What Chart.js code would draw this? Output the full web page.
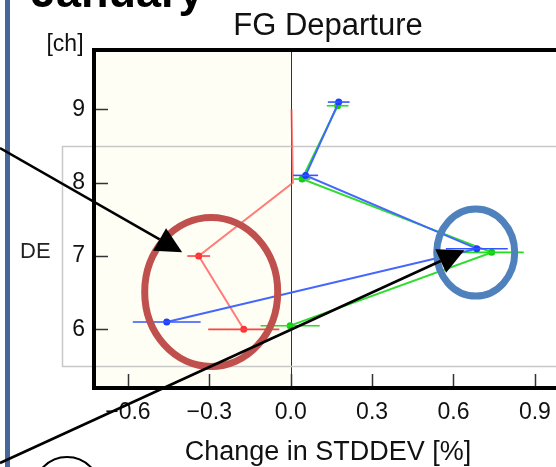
<!DOCTYPE html>
<html lang="en">
<head>
<meta charset="UTF-8">
<meta name="viewport" content="width=device-width, initial-scale=1.0">
<title>FG Departure</title>
<style>
    html, body { margin: 0; padding: 0; background: #fff; overflow: hidden; }
    #page { position: relative; width: 556px; height: 467px; overflow: hidden; font-family: 'Liberation Sans', Arial, sans-serif; }
    #bar { position: absolute; left: 5px; top: 0; width: 5px; height: 467px; background: #46679b; }
    #month { position: absolute; left: 31px; top: -31px; font-size: 45px; line-height: 45px; font-weight: bold; color: #000; white-space: nowrap; }
    #region { position: absolute; left: 20px; top: 240px; font-size: 22px; line-height: 22px; color: #222; }
    #fg { position: absolute; left: 0; top: 0; }
</style>
</head>
<body>
<div id="page">
    <div id="bar"></div>
    <canvas id="fg" width="580" height="467"></canvas>
    <div id="month">January</div>
    <div id="region">DE</div>
</div>
<script src="https://cdn.jsdelivr.net/npm/chart.js"></script>
<script>
// channels and change in stddev per experiment
const channels = [6, 7, 8, 9];
const redVals = [-0.173, -0.339, 0.008, 0.003];
const redErr = [0.131, 0.042, 0, 0];
const greenVals = [-0.002, 0.741, 0.042, 0.173];
const greenErr = [0.109, 0.118, 0.03, 0.04];
const blueVals = [-0.457, 0.686, 0.055, 0.177];
const blueErr = [0.125, 0.114, 0.046, 0.04];
const xTicks = [-0.6, -0.3, 0, 0.3, 0.6, 0.9];
const yTicks = [6, 7, 8, 9];

const font = "'Liberation Sans', Arial, sans-serif";
Chart.defaults.font.family = font;
Chart.defaults.color = '#111';

function points(vals, shift) {
    return channels.map((c, i) => ({ x: vals[i], y: c + shift }));
}

// horizontal error bars, drawn right after each dataset
const errorBars = {
    id: 'errorBars',
    afterDatasetDraw(chart, args) {
        const ds = chart.data.datasets[args.index];
        const { ctx, scales: { x } } = chart;
        ctx.save();
        ctx.strokeStyle = ds.barColor;
        ctx.lineWidth = 1.6;
        args.meta.data.forEach((pt, i) => {
            const e = ds.errs[i];
            if (!e) return;
            const v = ds.data[i].x;
            ctx.beginPath();
            ctx.moveTo(x.getPixelForValue(v - e), pt.y);
            ctx.lineTo(x.getPixelForValue(v + e), pt.y);
            ctx.stroke();
        });
        ctx.restore();
    }
};

// shaded negative half, zero line, box, inward ticks and frame
const frame = {
    id: 'frame',
    beforeDatasetsDraw(chart) {
        const { ctx, chartArea: a, scales: { x, y } } = chart;
        const x0 = x.getPixelForValue(0);
        ctx.save();
        ctx.fillStyle = '#fffef4';
        ctx.fillRect(a.left, a.top, x0 - a.left, a.bottom - a.top);

        ctx.strokeStyle = '#333';
        ctx.lineWidth = 1;
        ctx.beginPath();
        ctx.moveTo(Math.round(x0) + 0.5, a.top);
        ctx.lineTo(Math.round(x0) + 0.5, a.bottom);
        ctx.stroke();

        ctx.strokeStyle = '#c8c8c8';
        ctx.lineWidth = 1.5;
        ctx.strokeRect(62.5, 146.5, 600, 220);

        ctx.strokeStyle = '#333';
        ctx.lineWidth = 1.5;
        ctx.beginPath();
        xTicks.forEach(v => {
            const px = Math.round(x.getPixelForValue(v)) + 0.5;
            ctx.moveTo(px, a.bottom);
            ctx.lineTo(px, a.bottom - 14);
        });
        yTicks.forEach(v => {
            const py = Math.round(y.getPixelForValue(v)) + 0.5;
            ctx.moveTo(a.left, py);
            ctx.lineTo(a.left + 14, py);
        });
        ctx.stroke();

        ctx.strokeStyle = '#000';
        ctx.lineWidth = 4;
        ctx.strokeRect(a.left, a.top, a.right - a.left, a.bottom - a.top);
        ctx.restore();
    }
};

function arrow(ctx, x1, y1, x2, y2) {
    const ang = Math.atan2(y2 - y1, x2 - x1);
    const len = 26, half = 13;
    const bx = x2 - len * Math.cos(ang), by = y2 - len * Math.sin(ang);
    ctx.beginPath();
    ctx.moveTo(x1, y1);
    ctx.lineTo(bx, by);
    ctx.stroke();
    ctx.beginPath();
    ctx.moveTo(x2, y2);
    ctx.lineTo(bx + half * Math.sin(ang), by - half * Math.cos(ang));
    ctx.lineTo(bx - half * Math.sin(ang), by + half * Math.cos(ang));
    ctx.closePath();
    ctx.fill();
}

// highlight rings, arrows and the channel unit label
const notes = {
    id: 'notes',
    afterDraw(chart) {
        const { ctx, scales: { x, y } } = chart;
        ctx.save();
        ctx.lineWidth = 7;
        ctx.strokeStyle = '#c0504d';
        ctx.beginPath();
        ctx.ellipse(x.getPixelForValue(-0.293), y.getPixelForValue(6.51), 66.5, 74.5, 0, 0, Math.PI * 2);
        ctx.stroke();
        ctx.strokeStyle = '#4f81bd';
        ctx.beginPath();
        ctx.ellipse(x.getPixelForValue(0.682), y.getPixelForValue(7.047), 39, 43.5, 0, 0, Math.PI * 2);
        ctx.stroke();

        ctx.strokeStyle = '#000';
        ctx.fillStyle = '#000';
        ctx.lineWidth = 2.5;
        arrow(ctx, 0, 148, x.getPixelForValue(-0.40), y.getPixelForValue(7.05));
        arrow(ctx, 0, 463, x.getPixelForValue(0.64), y.getPixelForValue(7.08));

        ctx.lineWidth = 2;
        ctx.beginPath();
        ctx.arc(67, 490, 33, 0, Math.PI * 2);
        ctx.stroke();

        ctx.font = '23px ' + font;
        ctx.fillStyle = '#111';
        ctx.textAlign = 'center';
        ctx.textBaseline = 'middle';
        ctx.fillText('[ch]', 65, 45);
        ctx.restore();
    }
};

new Chart(document.getElementById('fg'), {
    type: 'scatter',
    data: {
        datasets: [{
            label: 'red',
            data: points(redVals, 0),
            errs: redErr,
            barColor: '#ff4040',
            showLine: true,
            borderColor: 'rgba(255, 80, 80, 0.75)',
            borderWidth: 2,
            pointRadius: [3.5, 3.5, 0, 0],
            pointBackgroundColor: '#ff3333',
            pointBorderWidth: 0,
            order: 2
        }, {
            label: 'green',
            data: points(greenVals, 0.05),
            errs: greenErr,
            barColor: '#22dd22',
            showLine: true,
            borderColor: '#2ddd2d',
            borderWidth: 2,
            pointRadius: 3.5,
            pointBackgroundColor: '#11cc11',
            pointBorderWidth: 0,
            order: 1
        }, {
            label: 'blue',
            data: points(blueVals, 0.1),
            errs: blueErr,
            barColor: '#3355ff',
            showLine: true,
            borderColor: '#4466ff',
            borderWidth: 2,
            pointRadius: 3.5,
            pointBackgroundColor: '#1f3fff',
            pointBorderWidth: 0,
            order: 0
        }]
    },
    options: {
        responsive: false,
        animation: false,
        events: [],
        layout: { padding: { left: 0, right: 18, top: 0, bottom: 0 } },
        plugins: {
            legend: { display: false },
            tooltip: { enabled: false },
            title: {
                display: true,
                text: 'FG Departure',
                fullSize: false,
                color: '#111',
                font: { size: 31, weight: 'normal' },
                padding: { top: 8, bottom: 4.8 }
            }
        },
        scales: {
            x: {
                type: 'linear',
                min: -0.725,
                max: 1.0,
                afterBuildTicks: s => { s.ticks = xTicks.map(v => ({ value: v })); },
                afterFit: s => { s.height = 79; },
                grid: { display: false, drawTicks: false },
                border: { display: false },
                ticks: {
                    font: { size: 23 },
                    color: '#111',
                    padding: 11,
                    maxRotation: 0,
                    callback: v => v.toFixed(1).replace('-', '\u2212')
                },
                title: {
                    display: true,
                    text: 'Change in STDDEV [%]',
                    color: '#111',
                    font: { size: 27, lineHeight: 1.05 },
                    padding: { top: 0, bottom: 0 }
                }
            },
            y: {
                type: 'linear',
                min: 5.2,
                max: 9.81,
                afterBuildTicks: s => { s.ticks = yTicks.map(v => ({ value: v })); },
                afterFit: s => { s.width = 94; },
                grid: { display: false, drawTicks: false },
                border: { display: false },
                ticks: {
                    font: { size: 23 },
                    color: '#111',
                    padding: 9
                }
            }
        }
    },
    plugins: [frame, errorBars, notes]
});
</script>
</body>
</html>
